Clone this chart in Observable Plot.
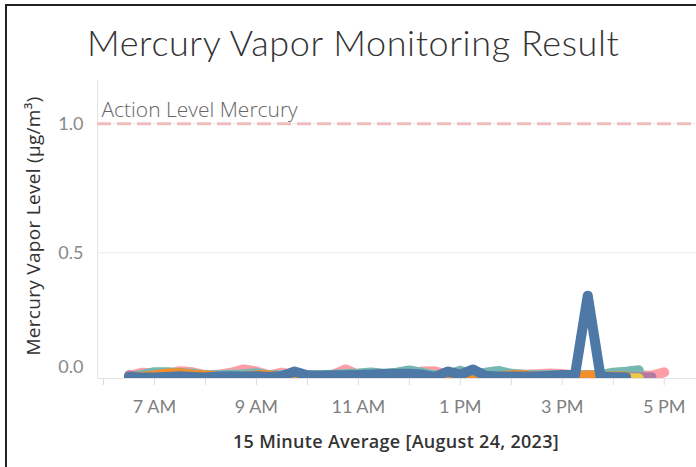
<!DOCTYPE html>
<html><head><meta charset="utf-8">
<script src="https://cdn.jsdelivr.net/npm/d3@7"></script>
<script src="https://cdn.jsdelivr.net/npm/@observablehq/plot@0.6"></script>
<style>
body{margin:0;background:#fff;}
#wrap{position:relative;width:696px;height:467px;overflow:hidden;font-family:Lato,"Open Sans",sans-serif;}
#border{position:absolute;left:5px;top:4px;width:900px;height:700px;border-left:2px solid #222;border-top:2px solid #222;}
#title{position:absolute;left:87px;top:21px;font-size:36px;font-weight:300;letter-spacing:0.6px;color:#333;white-space:nowrap;line-height:1.2;}
#ylab{position:absolute;left:33px;top:226px;transform:translate(-50%,-50%) rotate(-90deg);font-family:"Open Sans",sans-serif;font-size:19px;letter-spacing:0.3px;color:#333;white-space:nowrap;}
#xlab{position:absolute;left:396px;top:429px;transform:translateX(-50%);font-family:"Open Sans",sans-serif;font-size:18px;letter-spacing:0.3px;font-weight:600;color:#333;white-space:nowrap;}
#chart svg{position:absolute;left:0;top:0;}
</style></head>
<body>
<div id="wrap">
  <div id="chart"></div>
  <div id="border"></div>
  <div id="title">Mercury Vapor Monitoring Result</div>
  <div id="ylab">Mercury Vapor Level (μg/m³)</div>
  <div id="xlab">15 Minute Average [August 24, 2023]</div>
</div>
<script>
// 15-minute timestamps (August 24, 2023)
const times = ["6:30","6:45","7:00","7:15","7:30","7:45","8:00","8:15","8:30","8:45",
  "9:00","9:15","9:30","9:45","10:00","10:15","10:30","10:45","11:00","11:15",
  "11:30","11:45","12:00","12:15","12:30","12:45","13:00","13:15","13:30","13:45",
  "14:00","14:15","14:30","14:45","15:00","15:15","15:30","15:45","16:00","16:15",
  "16:30","16:45","17:00"];

// series values (μg/m³)
const pink = [0.023,0.035,0.033,0.029,0.041,0.037,0.025,0.027,0.035,0.048,
  0.040,0.025,0.035,0.025,0.023,0.025,0.027,0.048,0.027,0.025,
  0.025,0.027,0.027,0.040,0.041,0.025,0.025,0.025,0.025,0.025,
  0.027,0.027,0.029,0.032,0.030,0.025,0.025,0.027,0.025,0.027,
  0.025,0.023,0.037];
const teal = [0.020,0.027,0.037,0.037,0.034,0.031,0.025,0.025,0.027,0.029,
  0.033,0.025,0.025,0.025,0.025,0.025,0.027,0.030,0.032,0.036,
  0.031,0.035,0.044,0.035,0.025,0.027,0.043,0.027,0.035,0.042,
  0.031,0.027,0.025,0.025,0.025,0.025,0.025,0.027,0.035,0.039,
  0.045];
const purple = [0.025,0.016,0.015,0.016,0.015,0.014,0.015,0.016,0.015,0.015,
  0.014,0.015,0.016,0.015,0.015,0.014,0.015,0.016,0.015,0.015,
  0.014,0.015,0.016,0.015,0.015,0.014,0.015,0.016,0.015,0.015,
  0.014,0.015,0.016,0.015,0.015,0.014,0.015,0.016,0.016,0.017,
  0.018,0.018];
const yellow = [0.012,0.013,0.012,0.012,0.013,0.012,0.012,0.013,0.012,0.012,
  0.013,0.012,0.012,0.013,0.012,0.012,0.013,0.012,0.012,0.013,
  0.012,0.012,0.013,0.012,0.012,0.013,0.012,0.012,0.013,0.012,
  0.012,0.013,0.012,0.012,0.013,0.012,0.012,0.013,0.013,0.014,
  0.014];
const orange = [0.017,0.020,0.025,0.032,0.033,0.027,0.025,0.020,0.019,0.020,
  0.025,0.025,0.017,0.017,0.017,0.017,0.018,0.018,0.018,0.019,
  0.019,0.019,0.019,0.019,0.017,0.019,0.019,0.019,0.019,0.020,
  0.025,0.026,0.020,0.020,0.020,0.021,0.025,0.021,0.021,0.021];
const blue = [0.019,0.017,0.017,0.019,0.022,0.019,0.017,0.021,0.022,0.021,
  0.022,0.019,0.023,0.040,0.025,0.023,0.025,0.025,0.026,0.028,
  0.030,0.031,0.031,0.028,0.019,0.040,0.028,0.048,0.023,0.021,
  0.021,0.021,0.021,0.023,0.026,0.026,0.334,0.021,0.018,0.018];

const seriesNames = ["pink","teal","purple","yellow","orange","blue"];
const seriesColors = ["#ff9da7","#76b7b2","#b07aa1","#edc948","#f28e2b","#4e79a7"];
const seriesValues = [pink, teal, purple, yellow, orange, blue];

const actionLevel = 1.0;
const actionLabel = "Action Level Mercury";
const yTicks = [0.5, 1.0];
const hourTicks = ["6:00","7:00","8:00","9:00","10:00","11:00","12:00","13:00","14:00","15:00","16:00","17:00"];
const labelTicks = ["7:00","9:00","11:00","13:00","15:00","17:00"];

const parse = s => { const [h, m] = s.split(":").map(Number); return new Date(2023, 7, 24, h, m); };

const lineMarks = seriesNames.map((name, k) => {
  const rows = seriesValues[k].map((v, i) => ({time: parse(times[i]), value: v}));
  return Plot.line(rows, {x: "time", y: "value", stroke: seriesColors[k], strokeWidth: 10,
    strokeLinecap: "round", strokeLinejoin: "round", clip: true});
});

const chart = Plot.plot({
  width: 696, height: 467,
  marginLeft: 97, marginRight: 0, marginTop: 80, marginBottom: 89,
  x: {type: "time", domain: [parse("5:53"), parse("17:38")]},
  y: {domain: [0.0128, 1.168]},
  style: {fontFamily: "Lato, 'Open Sans', sans-serif", background: "transparent", overflow: "visible"},
  marks: [
    Plot.ruleY(yTicks, {stroke: "#ebebeb", strokeWidth: 1}),
    Plot.frame({anchor: "left", stroke: "#e4e4e4"}),
    Plot.frame({anchor: "bottom", stroke: "#e4e4e4"}),
    Plot.ruleY([actionLevel], {stroke: "#f0bcbc", strokeWidth: 3, strokeDasharray: "14,6"}),
    Plot.text([actionLabel], {frameAnchor: "left", y: actionLevel, dx: 4, dy: -14, textAnchor: "start",
      fontSize: 21, fill: "#666", fontWeight: 300, fontFamily: "'Open Sans', sans-serif"}),
    Plot.axisY(yTicks, {tickSize: 0, tickPadding: 14, tickFormat: d3.format(".1f"), fontSize: 18, fill: "#888", label: null}),
    Plot.axisY([0], {tickSize: 0, tickPadding: 14, tickFormat: d3.format(".1f"), fontSize: 18, fill: "#888", label: null, dy: -15}),
    Plot.axisX(hourTicks.map(parse), {tickSize: 7, stroke: "#dcdcdc", tickFormat: () => "", label: null}),
    Plot.axisX(labelTicks.map(parse), {tickSize: 0, tickPadding: 22, tickFormat: d3.timeFormat("%-I %p"), fontSize: 18, fill: "#808080", label: null}),
    ...lineMarks
  ]
});
document.getElementById("chart").appendChild(chart);
</script>
</body></html>
